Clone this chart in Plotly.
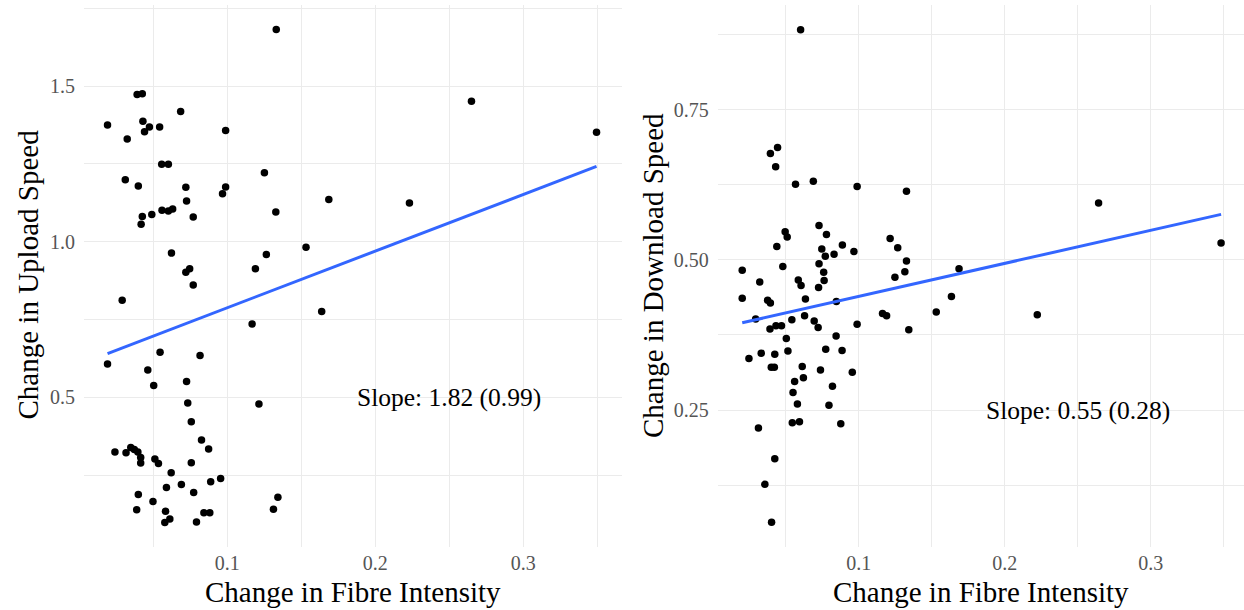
import numpy as np
import plotly.graph_objects as go

# ---- data ----
fibre_up = [0.1331, 0.0391, 0.0426, 0.2650, 0.0685, 0.0191, 0.0430, 0.0474, 0.0441, 0.0543,
            0.0324, 0.0989, 0.3495, 0.0557, 0.0602, 0.1251, 0.0311, 0.0399, 0.0720, 0.0989,
            0.0968, 0.0725, 0.1686, 0.2231, 0.0559, 0.0602, 0.0631, 0.0490, 0.0426, 0.0770,
            0.1328, 0.0418, 0.1532, 0.0623, 0.1264, 0.1190, 0.0720, 0.0746, 0.0770, 0.0290,
            0.1638, 0.1168, 0.0546, 0.0816, 0.0191, 0.0463, 0.0725, 0.0503, 0.0733, 0.1214,
            0.0757, 0.0826, 0.0874, 0.0241, 0.0316, 0.0348, 0.0372, 0.0396, 0.0415, 0.0415,
            0.0511, 0.0535, 0.0757, 0.0621, 0.0690, 0.0589, 0.0888, 0.0955, 0.0773, 0.0399,
            0.1342, 0.0498, 0.0388, 0.0583, 0.0842, 0.0882, 0.1312, 0.0612, 0.0578, 0.0792]
upload_change = [1.682, 1.473, 1.476, 1.452, 1.419, 1.375, 1.387, 1.369, 1.354, 1.369,
                 1.330, 1.358, 1.352, 1.249, 1.249, 1.2215, 1.199, 1.179, 1.175, 1.176,
                 1.154, 1.131, 1.136, 1.125, 1.101, 1.099, 1.105, 1.088, 1.081, 1.080,
                 1.096, 1.056, 0.9825, 0.9637, 0.9587, 0.9136, 0.9024, 0.9136, 0.861, 0.812,
                 0.776, 0.736, 0.6446, 0.6345, 0.607, 0.588, 0.5507, 0.538, 0.4818, 0.479,
                 0.4218, 0.363, 0.334, 0.324, 0.3216, 0.339, 0.332, 0.324, 0.307, 0.289,
                 0.302, 0.287, 0.290, 0.258, 0.220, 0.210, 0.229, 0.239, 0.194, 0.1875,
                 0.179, 0.165, 0.139, 0.134, 0.129, 0.129, 0.140, 0.109, 0.098, 0.099]

fibre_down = [0.0602, 0.0444, 0.0395, 0.0431, 0.0567, 0.0689, 0.0989, 0.1327, 0.2643, 0.0728,
              0.0496, 0.0510, 0.0779, 0.1215, 0.3482, 0.0888, 0.0439, 0.0747, 0.1267, 0.0967,
              0.0831, 0.0771, 0.1327, 0.0728, 0.0480, 0.0202, 0.1687, 0.0760, 0.1316, 0.1248,
              0.0586, 0.0763, 0.0322, 0.0605, 0.0725, 0.1635, 0.0202, 0.0635, 0.0376, 0.0395,
              0.0847, 0.1531, 0.1163, 0.1191, 0.2223, 0.0294, 0.0629, 0.0542, 0.0695, 0.0989,
              0.0392, 0.0433, 0.0471, 0.0722, 0.1343, 0.0845, 0.0504, 0.0774, 0.0886, 0.0515,
              0.0332, 0.0425, 0.0248, 0.0613, 0.0401, 0.0422, 0.0738, 0.0956, 0.0621, 0.0561,
              0.0820, 0.0550, 0.0580, 0.0796, 0.0313, 0.0545, 0.0594, 0.0877, 0.0425, 0.0357,
              0.0403]
download_change = [0.883, 0.687, 0.677, 0.655, 0.6256, 0.6308, 0.6218, 0.614, 0.5946, 0.557,
                   0.5466, 0.538, 0.542, 0.5356, 0.5278, 0.5246, 0.522, 0.518, 0.520, 0.5136,
                   0.509, 0.5058, 0.498, 0.4935, 0.489, 0.4825, 0.485, 0.4793, 0.480, 0.471,
                   0.4663, 0.4657, 0.463, 0.457, 0.454, 0.439, 0.436, 0.4346, 0.4326, 0.428,
                   0.4307, 0.413, 0.4106, 0.4067, 0.4087, 0.4016, 0.4067, 0.400, 0.398, 0.3925,
                   0.3847, 0.390, 0.390, 0.3873, 0.3834, 0.373, 0.369, 0.351, 0.349, 0.348,
                   0.3446, 0.3426, 0.3355, 0.3225, 0.321, 0.321, 0.3167, 0.313, 0.3037, 0.2973,
                   0.2895, 0.279, 0.260, 0.2578, 0.2202, 0.2286, 0.2306, 0.2273, 0.169, 0.1263,
                   0.063]

# fitted regression lines (slope from the chart labels, intercept)
up_fit = dict(slope=1.82, intercept=0.606)
down_fit = dict(slope=0.55, intercept=0.384)

x_tickvals = [0.1, 0.2, 0.3]
x_ticktext = ["0.1", "0.2", "0.3"]
x_minorvals = [0.05, 0.15, 0.25, 0.35]
up_tickvals = [0.5, 1.0, 1.5]
up_ticktext = ["0.5", "1.0", "1.5"]
up_minorvals = [0.25, 0.75, 1.25, 1.75]
down_tickvals = [0.25, 0.5, 0.75]
down_ticktext = ["0.25", "0.50", "0.75"]
down_minorvals = [0.125, 0.375, 0.625, 0.875]

x_title = "Change in Fibre Intensity"
up_title = "Change in Upload Speed"
down_title = "Change in Download Speed"
up_label = "Slope: 1.82 (0.99)"
down_label = "Slope: 0.55 (0.28)"

FONT = "Liberation Serif"
GRID = "#EBEBEB"
TICKC = "#555555"

fig = go.Figure()


def add_panel(x, y, fit, xa, ya):
    x = np.asarray(x)
    y = np.asarray(y)
    xs = np.array([x.min(), x.max()])
    fig.add_trace(go.Scatter(x=x, y=y, mode="markers", xaxis=xa, yaxis=ya,
                             marker=dict(color="black", size=7.5), showlegend=False,
                             hoverinfo="x+y"))
    fig.add_trace(go.Scatter(x=xs, y=fit["intercept"] + fit["slope"] * xs, mode="lines",
                             xaxis=xa, yaxis=ya,
                             line=dict(color="#3366FF", width=3), showlegend=False))


add_panel(fibre_up, upload_change, up_fit, "x", "y")
add_panel(fibre_down, download_change, down_fit, "x2", "y2")

L, R, T, B = 84, 0, 5, 63
W, H = 1244, 610
PW, PH = W - L - R, H - T - B


def px_x(p):
    return (p - L) / PW


def px_y(p):
    return (H - B - p) / PH


common_x = dict(tickvals=x_tickvals, ticktext=x_ticktext, showgrid=True, gridcolor=GRID,
                gridwidth=1.2, zeroline=False, showline=False, ticks="",
                tickfont=dict(family=FONT, size=20, color=TICKC), ticklabelstandoff=2,
                minor=dict(tickvals=x_minorvals, showgrid=True, gridcolor=GRID, gridwidth=0.8))


def yax(vals, text, minor, rng, anchor):
    return dict(tickvals=vals, ticktext=text, range=rng, showgrid=True, gridcolor=GRID,
                gridwidth=1.2, zeroline=False, showline=False, ticks="", anchor=anchor,
                tickfont=dict(family=FONT, size=20, color=TICKC), ticklabelstandoff=8,
                minor=dict(tickvals=minor, showgrid=True, gridcolor=GRID, gridwidth=0.8))


fig.update_layout(
    width=W, height=H,
    margin=dict(l=L, r=R, t=T, b=B),
    paper_bgcolor="white", plot_bgcolor="white",
    font=dict(family=FONT, color="black"),
    xaxis=dict(domain=[0, px_x(622)], range=[0.0032, 0.3667], anchor="y", **common_x),
    xaxis2=dict(domain=[px_x(717.7), 1], range=[0.0034, 0.3639], anchor="y2", **common_x),
    yaxis=yax(up_tickvals, up_ticktext, up_minorvals, [0.019, 1.761], "x"),
    yaxis2=yax(down_tickvals, down_ticktext, down_minorvals, [0.022, 0.924], "x2"),
)

ann = []
ann.append(dict(text=up_label, x=0.25, y=0.5, xref="x", yref="y", showarrow=False,
                font=dict(family=FONT, size=25.5, color="black"), xanchor="center", yanchor="middle"))
ann.append(dict(text=down_label, x=0.25, y=0.25, xref="x2", yref="y2", showarrow=False,
                font=dict(family=FONT, size=25.5, color="black"), xanchor="center", yanchor="middle"))
ann.append(dict(text=x_title, x=px_x(353), y=px_y(592), xref="paper", yref="paper",
                showarrow=False, font=dict(family=FONT, size=29, color="black"),
                xanchor="center", yanchor="middle"))
ann.append(dict(text=x_title, x=px_x(981), y=px_y(592), xref="paper", yref="paper",
                showarrow=False, font=dict(family=FONT, size=29, color="black"),
                xanchor="center", yanchor="middle"))
ann.append(dict(text=up_title, x=px_x(27.5), y=px_y(275), xref="paper", yref="paper",
                showarrow=False, textangle=-90, font=dict(family=FONT, size=29, color="black"),
                xanchor="center", yanchor="middle"))
ann.append(dict(text=down_title, x=px_x(653), y=px_y(276), xref="paper", yref="paper",
                showarrow=False, textangle=-90, font=dict(family=FONT, size=29, color="black"),
                xanchor="center", yanchor="middle"))
fig.update_layout(annotations=ann)

fig.write_html("out.html",
               config={"displayModeBar": False},
               post_script="document.body.style.margin='0';document.body.style.padding='0';"
                           "document.body.style.overflow='hidden';")
